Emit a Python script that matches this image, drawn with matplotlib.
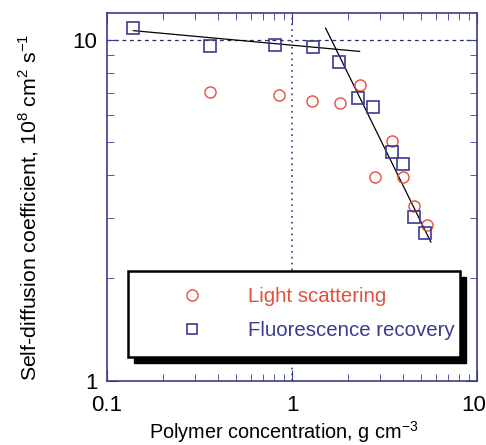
''' coeficiente de autodifusión vs concentración '''
import matplotlib
matplotlib.use('Agg')
import matplotlib.pyplot as plt
from matplotlib.lines import Line2D
from matplotlib.patches import Rectangle
from matplotlib.transforms import ScaledTranslation

plt.rcParams['font.family'] = ['Liberation Sans', 'DejaVu Sans']
plt.rcParams['mathtext.fontset'] = 'custom'
plt.rcParams['mathtext.rm'] = 'Liberation Sans'

# datos
conc_luz = [0.361, 0.855, 1.28, 1.81, 2.33, 2.81, 3.46, 3.96, 4.57, 5.34]
d_luz = [7.02, 6.90, 6.61, 6.51, 7.36, 3.95, 5.04, 3.95, 3.25, 2.87]

conc_fluo = [0.138, 0.361, 0.814, 1.30, 1.79, 2.26, 2.74, 3.46, 3.97, 4.57, 5.25]
d_fluo = [10.8, 9.56, 9.67, 9.51, 8.58, 6.74, 6.35, 4.69, 4.33, 3.02, 2.72]

ajuste1_x = [0.139, 2.32]
ajuste1_y = [10.63, 9.24]
ajuste2_x = [1.52, 5.63]
ajuste2_y = [10.81, 2.55]

AZUL = '#3b3b8f'
ROJO = '#e0503c'


def main():
    fig = plt.figure(figsize=(4.86, 4.45), dpi=100)
    ax = fig.add_axes([107/486, 1 - 380.7/445, (477-107)/486, (380.7-12.7)/445])
    ax.set_xscale('log')
    ax.set_yscale('log')
    ax.set_xlim(0.1, 10)
    ax.set_ylim(1, 12)

    ax.axhline(10, color='#2a2a6a', lw=0.9, ls=(0, (3, 3)), zorder=1)
    ax.axvline(1, color=AZUL, lw=1.2, ls=(0, (1, 2.5)), zorder=1)

    ax.plot(ajuste1_x, ajuste1_y, color='black', lw=0.9)
    ax.plot(ajuste2_x, ajuste2_y, color='black', lw=0.9)

    ax.plot(conc_luz, d_luz, 'o', ms=8, mfc='none', mec=ROJO, mew=1.0)
    ax.plot(conc_fluo, d_fluo, 's', ms=8.5, mfc='none', mec=AZUL, mew=1.2)

    for s in ax.spines.values():
        s.set_color(AZUL)
        s.set_linewidth(1.2)
    ax.tick_params(which='both', direction='in', top=True, right=True, color=AZUL,
                   labelsize=16)
    ax.tick_params(axis='x', pad=10)
    ax.tick_params(axis='y', pad=7)
    ax.tick_params(which='major', length=8)
    ax.tick_params(which='minor', length=5)
    ax.set_xticks([0.1, 1, 10], ['0.1', '1', '10'])
    ax.set_yticks([1, 10], ['1', '10'])
    ax.set_yticks([2, 3, 4, 5, 6, 7, 8, 9], minor=True)
    ax.yaxis.set_minor_formatter(plt.NullFormatter())
    ax.xaxis.set_minor_formatter(plt.NullFormatter())
    ultimo = ax.get_xticklabels()[-1]
    ultimo.set_transform(ultimo.get_transform()
                         + ScaledTranslation(-3/100, 0, fig.dpi_scale_trans))

    ax.set_xlabel('Polymer concentration, g cm$^{-3}$', fontsize=14.3)
    ax.xaxis.set_label_coords(0.478, -0.103)
    ax.set_ylabel('Self-diffusion coefficient, 10$^{8}$ cm$^{2}$ s$^{-1}$', fontsize=15.3)
    ax.yaxis.set_label_coords(-0.178, 0.47)

    handles = [
        Line2D([], [], marker='o', ls='none', ms=8, mfc='none', mec=ROJO, mew=1.0),
        Line2D([], [], marker='s', ls='none', ms=7.5, mfc='none', mec=AZUL, mew=1.2),
    ]
    leg = ax.legend(handles, ['Light scattering', 'Fluorescence recovery'],
                    loc='upper left', bbox_to_anchor=(21/370, 0, 332/370, 110/368),
                    mode='expand', fontsize=14.7, frameon=True, fancybox=False,
                    shadow=False, framealpha=1, borderpad=0.8, handlelength=4.7,
                    handletextpad=0.38, labelspacing=0.75, borderaxespad=0)
    leg.get_frame().set_edgecolor('black')
    leg.get_frame().set_facecolor('white')
    leg.get_frame().set_linewidth(1.8)
    leg.get_texts()[0].set_color(ROJO)
    leg.get_texts()[1].set_color(AZUL)

    # sombra desplazada del recuadro de la leyenda
    fig.canvas.draw()
    bb = leg.get_window_extent()
    sombra = Rectangle((bb.x0 + 6, bb.y0 - 6), bb.width, bb.height,
                       transform=None, facecolor='black', edgecolor='black',
                       zorder=leg.get_zorder() - 0.5)
    ax.add_artist(sombra)

    fig.savefig('out.png', dpi=100)


if __name__ == '__main__':
    main()
